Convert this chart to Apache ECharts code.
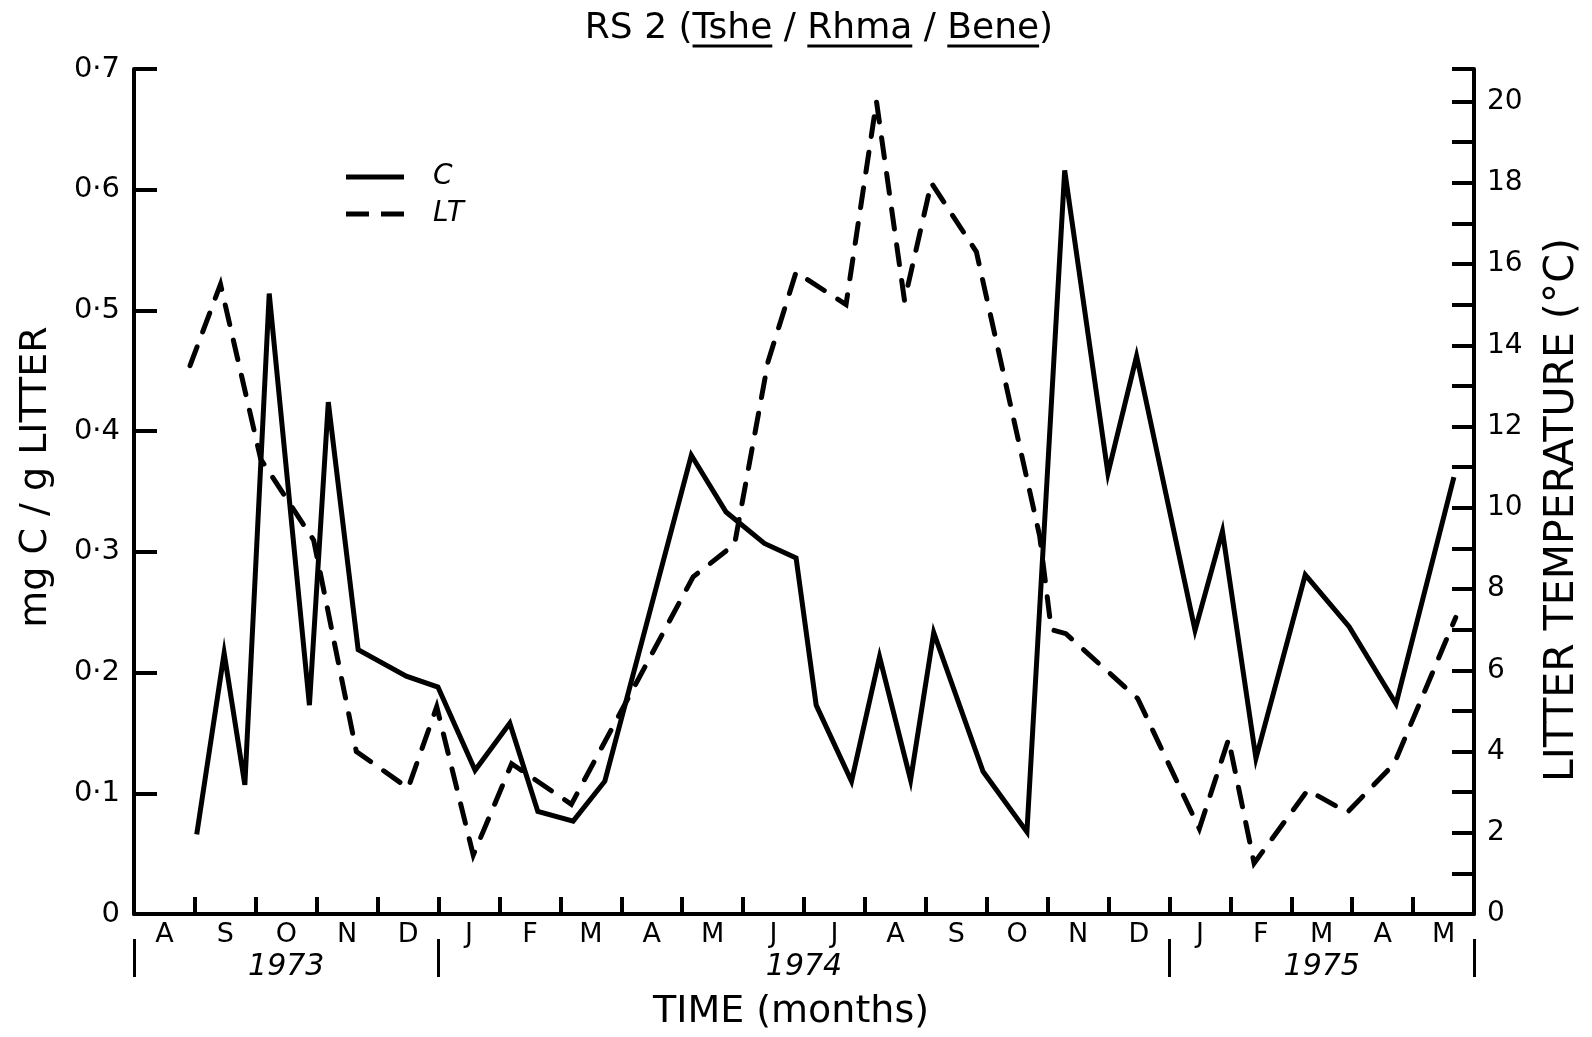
<!DOCTYPE html>
<html>
<head>
<meta charset="utf-8">
<title>RS 2 (Tshe / Rhma / Bene)</title>
<script src="https://cdn.jsdelivr.net/npm/echarts@6/dist/echarts.min.js"></script>
<style>
  html, body { margin: 0; padding: 0; background: #fff; }
  #chart { width: 1592px; height: 1037px; }
</style>
</head>
<body>
<div id="chart"></div>
<script>
// Months along the time axis, August 1973 to May 1975 (one slot per month)
const monthLabels = ['A', 'S', 'O', 'N', 'D', 'J', 'F', 'M', 'A', 'M', 'J', 'J',
                     'A', 'S', 'O', 'N', 'D', 'J', 'F', 'M', 'A', 'M'];
const yearLabels = ['1973', '1974', '1975'];
// month offsets where each year starts, and the end of the record
const yearStarts = [0, 5, 17, 22];

// C: mg C per g litter, sampled roughly twice a month (x = months since 1 Aug 1973)
const cMonths = [1.03, 1.48, 1.82, 2.22, 2.88, 3.19, 3.68, 4.47, 4.99, 5.60, 6.17, 6.63,
                 7.21, 7.73, 9.15, 9.72, 10.35, 10.87, 11.20, 11.78, 12.24, 12.75, 13.13,
                 13.94, 14.66, 15.28, 15.99, 16.46, 17.42, 17.87, 18.42, 19.23, 19.95,
                 20.72, 21.67];
const cValues = [0.066, 0.216, 0.107, 0.514, 0.173, 0.424, 0.219, 0.197, 0.188, 0.119,
                 0.158, 0.085, 0.077, 0.110, 0.380, 0.333, 0.307, 0.295, 0.173, 0.110,
                 0.213, 0.111, 0.233, 0.118, 0.068, 0.616, 0.365, 0.462, 0.235, 0.317,
                 0.129, 0.281, 0.238, 0.174, 0.362];

// LT: litter temperature, degrees C
const ltMonths = [0.92, 1.42, 2.08, 2.95, 3.65, 4.50, 4.97, 5.57, 6.20, 7.18, 9.18, 9.86,
                  10.41, 10.87, 11.69, 12.19, 12.65, 13.09, 13.83, 14.87, 15.06, 15.30,
                  16.48, 17.49, 17.97, 18.39, 19.27, 19.92, 20.69, 21.70];
const ltValues = [13.5, 15.5, 11.2, 9.2, 4.0, 3.1, 5.1, 1.45, 3.7, 2.7, 8.3, 9.1,
                  13.6, 15.8, 15.0, 20.0, 15.1, 18.0, 16.3, 9.3, 7.0, 6.9,
                  5.3, 2.1, 4.3, 1.25, 3.05, 2.5, 3.7, 7.3];

// axis ticks and labels
const cAxisMax = 0.7;
const cTicks = [0.1, 0.2, 0.3, 0.4, 0.5, 0.6, 0.7];
const cTickLabels = [0, 0.1, 0.2, 0.3, 0.4, 0.5, 0.6, 0.7];
const ltAxisMax = 20.8;
const ltTicks = [1, 2, 3, 4, 5, 6, 7, 8, 9, 10, 11, 12, 13, 14, 15, 16, 17, 18, 19, 20, 20.8];
const ltTickLabels = [0, 2, 4, 6, 8, 10, 12, 14, 16, 18, 20];

const FONT = 'DejaVu Sans';
const INK = '#000';

const monthTicks = monthLabels.slice(1).map((_, i) => i + 1);
const monthCenters = monthLabels.map((_, i) => i + 0.5);
const yearCenters = yearLabels.map((_, i) => (yearStarts[i] + yearStarts[i + 1]) / 2);

// title pieces; underlined ones are the species codes
const titleParts = [
  { t: 'RS 2 (', u: false }, { t: 'Tshe', u: true }, { t: ' / ', u: false },
  { t: 'Rhma', u: true }, { t: ' / ', u: false }, { t: 'Bene', u: true }, { t: ')', u: false }
];
const titleFontSize = 36;
const titleFont = titleFontSize + 'px "' + FONT + '"';
const measureCtx = document.createElement('canvas').getContext('2d');
measureCtx.font = titleFont;
const titleWidth = measureCtx.measureText(titleParts.map(p => p.t).join('')).width;
const titleCenterX = 819, titleY = 29, underlineY = 46;
const titleLeft = titleCenterX - titleWidth / 2;
const titleGraphics = [{
  type: 'text', x: titleLeft, y: titleY, silent: true,
  style: { text: titleParts.map(p => p.t).join(''), font: titleFont, fill: INK,
           align: 'left', verticalAlign: 'middle', textAlign: 'left', textVerticalAlign: 'middle' }
}];
let run = 0;
titleParts.forEach(p => {
  const w = measureCtx.measureText(p.t).width;
  if (p.u) {
    titleGraphics.push({
      type: 'line', silent: true,
      shape: { x1: titleLeft + run, y1: underlineY, x2: titleLeft + run + w, y2: underlineY },
      style: { stroke: INK, lineWidth: 3 }
    });
  }
  run += w;
});

function rotatedName(text, x, y, size) {
  return {
    type: 'text', x: x, y: y, rotation: Math.PI / 2, silent: true,
    style: { text: text, font: size + 'px "' + FONT + '"', fill: INK,
             align: 'center', verticalAlign: 'middle', textAlign: 'center', textVerticalAlign: 'middle' }
  };
}

// legend keys: a solid bar for C, two dashes for LT
const legendKeys = [
  { name: 'C', icon: 'path://M0 0H58V5H0Z' },
  { name: 'LT', icon: 'path://M0 0H23V5H0ZM35 0H58V5H35Z' }
];

const chart = echarts.init(document.getElementById('chart'), null, { renderer: 'canvas' });

const axisLineStyle = { color: INK, width: 4 };

chart.setOption({
  backgroundColor: '#fff',
  animation: false,
  grid: { left: 134, right: 118, top: 69, bottom: 123 },
  legend: {
    data: legendKeys,
    orient: 'vertical',
    left: 341, top: 158,
    itemWidth: 58, itemHeight: 5, itemGap: 9,
    selectedMode: false,
    textStyle: { fontFamily: FONT, fontSize: 28, fontStyle: 'italic', color: INK,
                 lineHeight: 20, padding: [0, 0, 0, 24] }
  },
  xAxis: [
    {
      type: 'value', min: 0, max: monthLabels.length, position: 'bottom',
      axisLine: { show: true, onZero: false, lineStyle: axisLineStyle },
      axisTick: { show: true, inside: true, length: 17, customValues: monthTicks,
                  lineStyle: { color: INK, width: 4 } },
      axisLabel: { customValues: monthCenters, margin: 7,
                   formatter: v => monthLabels[Math.floor(v)] || '',
                   fontFamily: FONT, fontSize: 27, color: INK },
      splitLine: { show: false }
    },
    {
      type: 'value', min: 0, max: monthLabels.length, position: 'bottom', offset: 25,
      axisLine: { show: false, onZero: false },
      axisTick: { show: true, inside: false, length: 38, customValues: yearStarts,
                  lineStyle: { color: INK, width: 3 } },
      axisLabel: { customValues: yearCenters, margin: 13,
                   formatter: v => {
                     const i = yearCenters.findIndex(c => Math.abs(c - v) < 1e-6);
                     return i >= 0 ? yearLabels[i] : '';
                   },
                   fontFamily: FONT, fontSize: 30, fontStyle: 'italic', color: INK },
      splitLine: { show: false }
    }
  ],
  yAxis: [
    {
      type: 'value', min: 0, max: cAxisMax, position: 'left',
      axisLine: { show: true, onZero: false, lineStyle: axisLineStyle },
      axisTick: { show: true, inside: true, length: 23, customValues: cTicks,
                  lineStyle: { color: INK, width: 4 } },
      axisLabel: { customValues: cTickLabels, margin: 14,
                   formatter: v => (v === 0 ? '0' : v.toFixed(1).replace('.', '\u00b7')),
                   fontFamily: FONT, fontSize: 29, color: INK },
      splitLine: { show: false }
    },
    {
      type: 'value', min: 0, max: ltAxisMax, position: 'right',
      axisLine: { show: true, onZero: false, lineStyle: axisLineStyle },
      axisTick: { show: true, inside: true, length: 22, customValues: ltTicks,
                  lineStyle: { color: INK, width: 4 } },
      axisLabel: { customValues: ltTickLabels, margin: 13,
                   formatter: v => String(Math.round(v)),
                   fontFamily: FONT, fontSize: 28, color: INK },
      splitLine: { show: false }
    }
  ],
  series: [
    {
      name: 'C', type: 'line', xAxisIndex: 0, yAxisIndex: 0,
      data: cMonths.map((m, i) => [m, cValues[i]]),
      symbol: 'none', clip: false,
      itemStyle: { color: INK },
      lineStyle: { color: INK, width: 5, join: 'miter', miterLimit: 8 }
    },
    {
      name: 'LT', type: 'line', xAxisIndex: 0, yAxisIndex: 1,
      data: ltMonths.map((m, i) => [m, ltValues[i]]),
      symbol: 'none', clip: false,
      itemStyle: { color: INK },
      lineStyle: { color: INK, width: 5, type: [20, 16], cap: 'round', join: 'miter', miterLimit: 8 }
    }
  ],
  graphic: titleGraphics.concat([
    rotatedName('mg C / g LITTER', 36, 477, 38),
    rotatedName('LITTER TEMPERATURE (\u00b0C)', 1562, 510, 41),
    {
      type: 'text', x: 791, y: 1012, silent: true,
      style: { text: 'TIME (months)', font: '38px "' + FONT + '"', fill: INK,
               align: 'center', verticalAlign: 'middle', textAlign: 'center', textVerticalAlign: 'middle' }
    }
  ])
});
</script>
</body>
</html>
